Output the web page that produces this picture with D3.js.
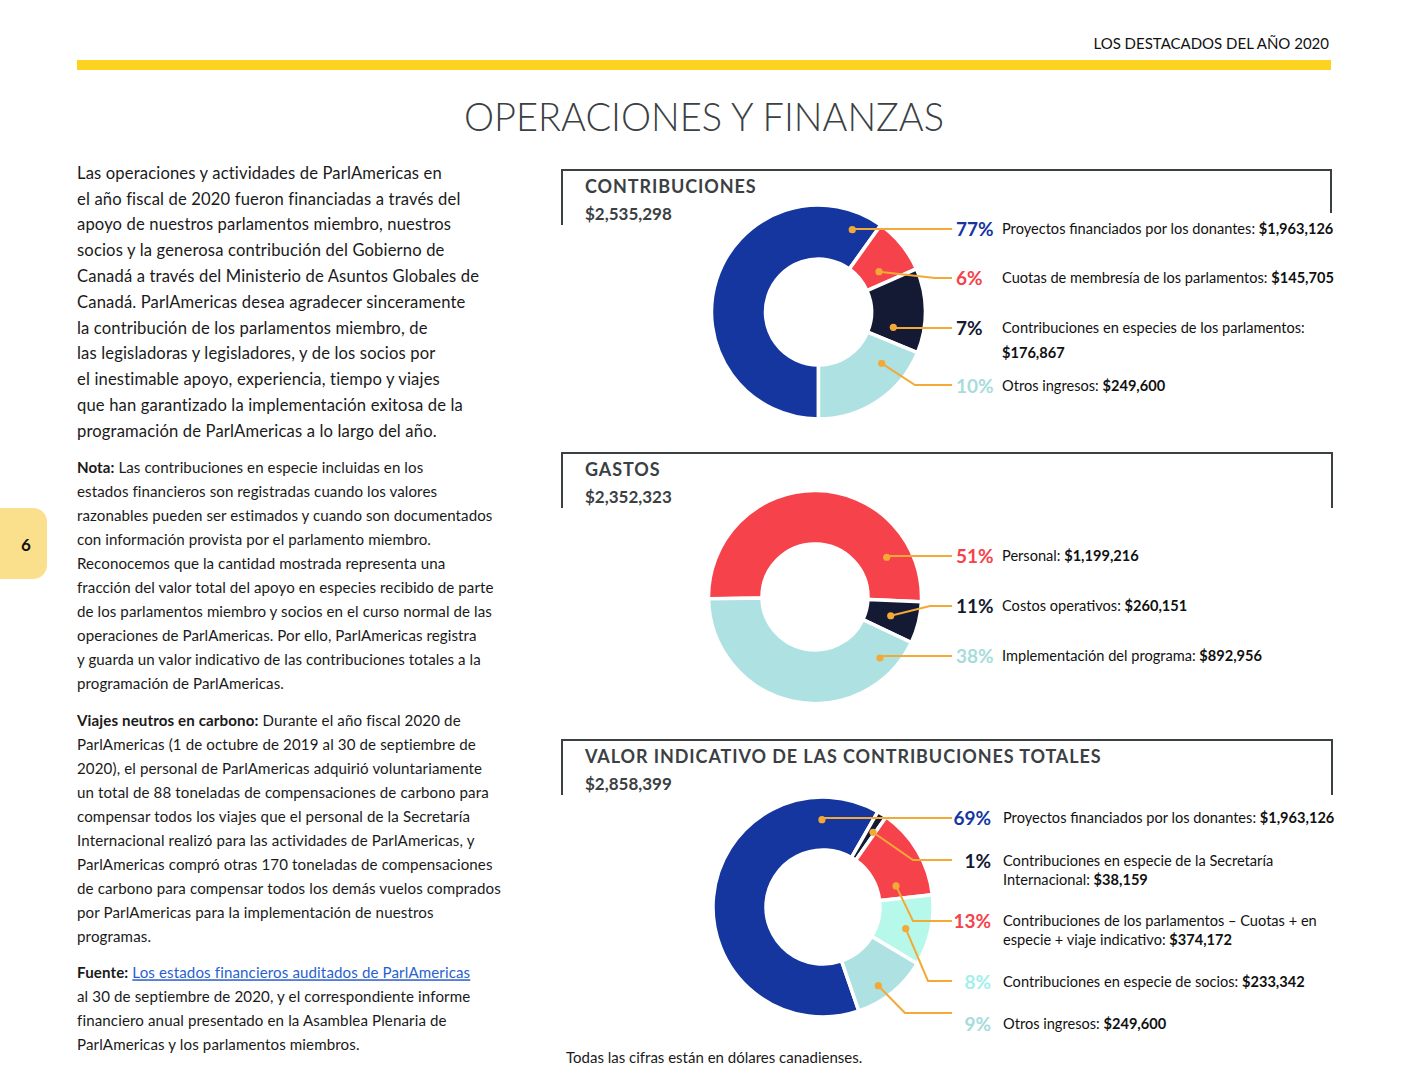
<!DOCTYPE html>
<html><head><meta charset="utf-8">
<script src="https://cdn.jsdelivr.net/npm/d3@7"></script>
<style>
html,body{margin:0;padding:0;background:#fff;}
svg{display:block;font-family:Lato,"Open Sans",sans-serif;}
</style></head><body>
<svg id="chart" width="1408" height="1088"></svg>
<script>
// ---------------- DATA ----------------
const contribTitle = "CONTRIBUCIONES";
const contribTotal = "$2,535,298";
const contribCategories = ["Proyectos financiados por los donantes", "Cuotas de membresía de los parlamentos", "Contribuciones en especies de los parlamentos", "Otros ingresos"];
const contribAmounts = ["$1,963,126", "$145,705", "$176,867", "$249,600"];
const contribPercents = ["77%", "6%", "7%", "10%"];
const contribDrawnShares = [59.9, 8.5, 12.8, 18.8];   // slice sizes as drawn in the picture (%)

const gastosTitle = "GASTOS";
const gastosTotal = "$2,352,323";
const gastosCategories = ["Personal", "Costos operativos", "Implementación del programa"];
const gastosAmounts = ["$1,199,216", "$260,151", "$892,956"];
const gastosPercents = ["51%", "11%", "38%"];
const gastosDrawnShares = [51.0, 6.3, 42.7];

const valorTitle = "VALOR INDICATIVO DE LAS CONTRIBUCIONES TOTALES";
const valorTotal = "$2,858,399";
const valorCategories = ["Proyectos financiados por los donantes", "Contribuciones en especie de la Secretaría Internacional", "Contribuciones de los parlamentos – Cuotas + en especie + viaje indicativo", "Contribuciones en especie de socios", "Otros ingresos"];
const valorAmounts = ["$1,963,126", "$38,159", "$374,172", "$233,342", "$249,600"];
const valorPercents = ["69%", "1%", "13%", "8%", "9%"];
const valorDrawnShares = [63.6, 1.4, 13.5, 10.4, 11.1];

// ---------------- STYLE / LAYOUT ----------------
const C = {blue:"#15369f", red:"#f5424b", dark:"#141a33", teal:"#aee2e2", mint:"#b6f8ea",
  orange:"#f3a935", ink:"#3b4043", yellow:"#fcd320", tab:"#fae08c", text:"#1a1a1a", link:"#2a5fcf"};

const sections = [
  {title:contribTitle, total:contribTotal, cats:contribCategories, amounts:contribAmounts, pcts:contribPercents, shares:contribDrawnShares,
   colors:[C.blue,C.red,C.dark,C.teal], pctColors:[C.blue,C.red,C.dark,"#a6dcdc"],
   box:{x0:562,x1:1331,top:170,lb:225,rb:213}, titleY:187, totalY:214,
   donut:{cx:818.5,cy:312,rOut:107,rIn:53,start:180},
   pctX:956, pctAnchor:"start", labelX:1002, endX:952, lineGap:25,
   rows:[229,278,328,386], leaderRows:[229,278,328,385],
   breaks:{2:"$176,867"},
   leaders:[{a:22.3,r:89},{a:56.3,r:72.7,ex:935},{a:101.6,r:76.4},{a:129.1,r:81.4,ex:915}]},
  {title:gastosTitle, total:gastosTotal, cats:gastosCategories, amounts:gastosAmounts, pcts:gastosPercents, shares:gastosDrawnShares,
   colors:[C.red,C.dark,C.teal], pctColors:[C.red,C.dark,"#a6dcdc"],
   box:{x0:562,x1:1332,top:453,lb:508,rb:508}, titleY:470, totalY:497,
   donut:{cx:815,cy:597,rOut:106.5,rIn:53,start:-91},
   pctX:956, pctAnchor:"start", labelX:1002, endX:952, lineGap:25,
   rows:[556,606,656], leaderRows:[556,606,656], breaks:{},
   leaders:[{a:61,r:82},{a:103.9,r:78,ex:930},{a:133.2,r:89.1}]},
  {title:valorTitle, total:valorTotal, cats:valorCategories, amounts:valorAmounts, pcts:valorPercents, shares:valorDrawnShares,
   colors:[C.blue,C.dark,C.red,C.mint,C.teal], pctColors:[C.blue,C.dark,C.red,"#a2f0ec","#a6dcdc"],
   box:{x0:562,x1:1332,top:740,lb:795,rb:795}, titleY:757, totalY:784,
   donut:{cx:823,cy:907,rOut:110,rIn:57,start:161},
   pctX:991, pctAnchor:"end", labelX:1003, endX:952, lineGap:19,
   rows:[818,861,921,982,1024], leaderRows:[818,860,921,981,1013],
   breaks:{1:"Internacional", 2:"especie +"},
   leaders:[{a:-0.7,r:87.3},{a:33.8,r:89.9,ex:913},{a:73.9,r:76,ex:913},{a:104.7,r:85.5,ex:928},{a:144.9,r:96.2,ex:905}]}
];

const para1 = [
 [{t:"Las operaciones y actividades de ParlAmericas en"}],
 [{t:"el año fiscal de 2020 fueron financiadas a través del"}],
 [{t:"apoyo de nuestros parlamentos miembro, nuestros"}],
 [{t:"socios y la generosa contribución del Gobierno de"}],
 [{t:"Canadá a través del Ministerio de Asuntos Globales de"}],
 [{t:"Canadá. ParlAmericas desea agradecer sinceramente"}],
 [{t:"la contribución de los parlamentos miembro, de"}],
 [{t:"las legisladoras y legisladores, y de los socios por"}],
 [{t:"el inestimable apoyo, experiencia, tiempo y viajes"}],
 [{t:"que han garantizado la implementación exitosa de la"}],
 [{t:"programación de ParlAmericas a lo largo del año."}]
];
const para2 = [
 [{t:"Nota:",b:1},{t:" Las contribuciones en especie incluidas en los"}],
 [{t:"estados financieros son registradas cuando los valores"}],
 [{t:"razonables pueden ser estimados y cuando son documentados"}],
 [{t:"con información provista por el parlamento miembro."}],
 [{t:"Reconocemos que la cantidad mostrada representa una"}],
 [{t:"fracción del valor total del apoyo en especies recibido de parte"}],
 [{t:"de los parlamentos miembro y socios en el curso normal de las"}],
 [{t:"operaciones de ParlAmericas. Por ello, ParlAmericas registra"}],
 [{t:"y guarda un valor indicativo de las contribuciones totales a la"}],
 [{t:"programación de ParlAmericas."}]
];
const para3 = [
 [{t:"Viajes neutros en carbono:",b:1},{t:" Durante el año fiscal 2020 de"}],
 [{t:"ParlAmericas (1 de octubre de 2019 al 30 de septiembre de"}],
 [{t:"2020), el personal de ParlAmericas adquirió voluntariamente"}],
 [{t:"un total de 88 toneladas de compensaciones de carbono para"}],
 [{t:"compensar todos los viajes que el personal de la Secretaría"}],
 [{t:"Internacional realizó para las actividades de ParlAmericas, y"}],
 [{t:"ParlAmericas compró otras 170 toneladas de compensaciones"}],
 [{t:"de carbono para compensar todos los demás vuelos comprados"}],
 [{t:"por ParlAmericas para la implementación de nuestros"}],
 [{t:"programas."}]
];
const para4 = [
 [{t:"Fuente:",b:1},{t:" "},{t:"Los estados financieros auditados de ParlAmericas",link:1}],
 [{t:"al 30 de septiembre de 2020, y el correspondiente informe"}],
 [{t:"financiero anual presentado en la Asamblea Plenaria de"}],
 [{t:"ParlAmericas y los parlamentos miembros."}]
];

// ---------------- DRAW ----------------
const svg = d3.select("#chart");

// header
svg.append("text").attr("x",1329).attr("y",44).attr("dy","0.35em").attr("text-anchor","end")
  .attr("font-size",15).attr("fill","#111").text("LOS DESTACADOS DEL AÑO 2020");
svg.append("rect").attr("x",77).attr("y",60).attr("width",1254).attr("height",10).attr("fill",C.yellow);
svg.append("text").attr("x",704).attr("y",117).attr("dy","0.35em").attr("text-anchor","middle")
  .attr("font-size",39).attr("font-weight",300).attr("fill",C.ink)
  .attr("textLength",480).attr("lengthAdjust","spacingAndGlyphs").text("OPERACIONES Y FINANZAS");

// page tab
svg.append("rect").attr("x",-20).attr("y",508).attr("width",67).attr("height",71).attr("rx",14).attr("fill",C.tab);
svg.append("text").attr("x",26).attr("y",545).attr("dy","0.35em").attr("text-anchor","middle")
  .attr("font-size",17).attr("font-weight",700).attr("fill","#111").text("6");

// left paragraphs
function para(lines, y0, lh, fs, ls){
  lines.forEach((segs,i)=>{
    const t = svg.append("text").attr("x",77).attr("y",y0+i*lh).attr("dy","0.35em")
      .attr("font-size",fs).attr("letter-spacing",ls).attr("fill",C.text).style("white-space","pre");
    segs.forEach(s=>{
      const ts = t.append("tspan").text(s.t);
      if(s.b) ts.attr("font-weight",700);
      if(s.link) ts.attr("fill",C.link).attr("text-decoration","underline");
    });
  });
}
para(para1,173,25.8,16.6,0.15);
para(para2,468,24,15.1,0.08);
para(para3,721,24,15.1,0.12);
para(para4,973,24,15.1,0.12);

// footer
svg.append("text").attr("x",566).attr("y",1058).attr("dy","0.35em").attr("font-size",15)
  .attr("fill",C.text).text("Todas las cifras están en dólares canadienses.");

const rad = d=>d*Math.PI/180;

sections.forEach(s=>{
  const g = svg.append("g");
  // box outline
  const b = s.box;
  g.append("path").attr("fill","none").attr("stroke",C.ink).attr("stroke-width",2)
    .attr("d",`M${b.x0},${b.lb}V${b.top}H${b.x1}V${b.rb}`);
  g.append("text").attr("x",585).attr("y",s.titleY).attr("dy","0.35em").attr("font-size",18)
    .attr("letter-spacing",0.9).attr("font-weight",700).attr("fill",C.ink).text(s.title);
  g.append("text").attr("x",585).attr("y",s.totalY).attr("dy","0.35em").attr("font-size",17)
    .attr("font-weight",700).attr("fill",C.ink).text(s.total);

  // donut
  const d = s.donut;
  const pie = d3.pie().sort(null).value(v=>v)
    .startAngle(rad(d.start)).endAngle(rad(d.start)+2*Math.PI);
  const arc = d3.arc().innerRadius(d.rIn).outerRadius(d.rOut);
  const dg = g.append("g").attr("transform",`translate(${d.cx},${d.cy})`);
  dg.selectAll("path").data(pie(s.shares)).join("path")
    .attr("d",arc).attr("fill",(p,i)=>s.colors[i]).attr("stroke","#fff").attr("stroke-width",3.5)
    .attr("stroke-linejoin","miter");

  // leaders
  s.leaders.forEach((L,i)=>{
    const px = d.cx + L.r*Math.sin(rad(L.a));
    const py = d.cy - L.r*Math.cos(rad(L.a));
    const ry = s.leaderRows[i];
    const ex = L.ex!==undefined ? L.ex : px;
    const line = d3.line()([[px,py],[ex,ry],[s.endX,ry]]);
    g.append("path").attr("d",line).attr("fill","none").attr("stroke",C.orange).attr("stroke-width",2);
    g.append("circle").attr("cx",px).attr("cy",py).attr("r",3.6).attr("fill",C.orange);
  });

  // labels
  s.cats.forEach((cat,i)=>{
    const y = s.rows[i];
    g.append("text").attr("x",s.pctX).attr("y",y).attr("dy","0.35em").attr("text-anchor",s.pctAnchor)
      .attr("font-size",19).attr("font-weight",700).attr("fill",s.pctColors[i]).text(s.pcts[i]);
    const full = cat + ": " + s.amounts[i];
    let lines = [full];
    const br = s.breaks[i];
    if(br){ const k = full.indexOf(br); lines = [full.slice(0,k).trimEnd(), full.slice(k)]; }
    lines.forEach((ln,j)=>{
      const t = g.append("text").attr("x",s.labelX).attr("y",y+j*s.lineGap).attr("dy","0.35em")
        .attr("font-size",14.6).attr("fill","#111").style("white-space","pre");
      const amt = s.amounts[i];
      const k = ln.indexOf(amt);
      if(k>=0){
        if(k>0) t.append("tspan").text(ln.slice(0,k));
        t.append("tspan").attr("font-weight",700).text(amt);
      } else t.append("tspan").text(ln);
    });
  });
});
</script>
</body></html>
